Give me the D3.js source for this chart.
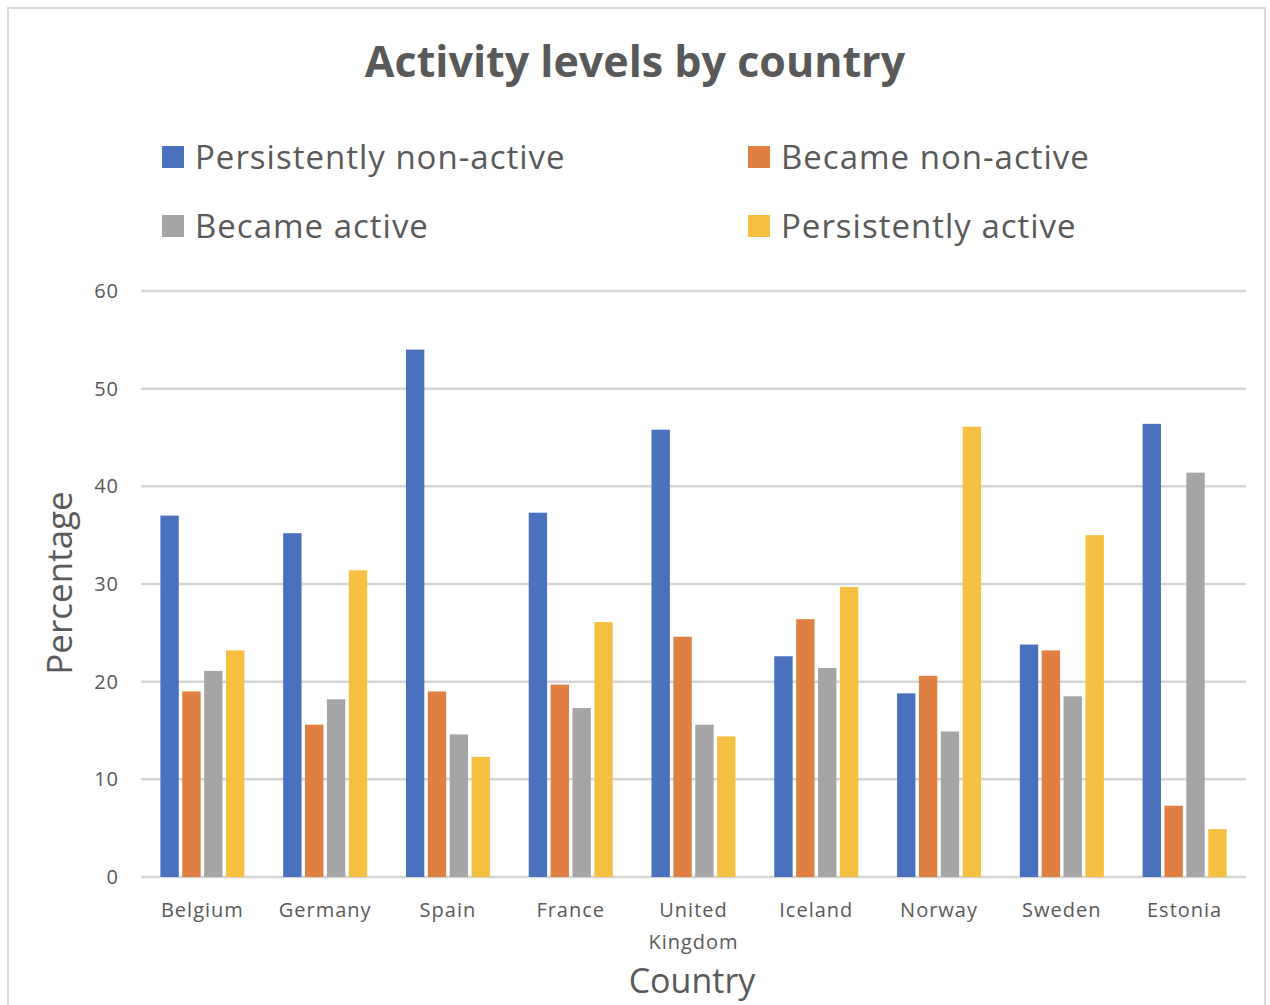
<!DOCTYPE html>
<html>
<head>
<meta charset="utf-8">
<script src="https://cdn.jsdelivr.net/npm/d3@7"></script>
<style>
  body { margin: 0; background: #fff; }
  text { font-family: "Open Sans", "DejaVu Sans", sans-serif; fill: #595959; }
</style>
</head>
<body>
<div id="chart"></div>
<script>
// data
var countries = ["Belgium", "Germany", "Spain", "France", "United Kingdom",
                 "Iceland", "Norway", "Sweden", "Estonia"];
var seriesNames = ["Persistently non-active", "Became non-active",
                   "Became active", "Persistently active"];
var persistentlyNonActive = [37.0, 35.2, 54.0, 37.3, 45.8, 22.6, 18.8, 23.8, 46.4];
var becameNonActive       = [19.0, 15.6, 19.0, 19.7, 24.6, 26.4, 20.6, 23.2, 7.3];
var becameActive          = [21.1, 18.2, 14.6, 17.3, 15.6, 21.4, 14.9, 18.5, 41.4];
var persistentlyActive    = [23.2, 31.4, 12.3, 26.1, 14.4, 29.7, 46.1, 35.0, 4.9];
var yTicks = [0, 10, 20, 30, 40, 50, 60];
var colors = ["#4A71BE", "#E07F42", "#A5A5A5", "#F5BF41"];

var seriesValues = [persistentlyNonActive, becameNonActive, becameActive, persistentlyActive];

var width = 1270, height = 1005;
var plot = {left: 141, right: 1246, top: 291, bottom: 877};

var svg = d3.select("#chart").append("svg")
  .attr("width", width)
  .attr("height", height);

// outer frame
svg.append("rect")
  .attr("x", 8).attr("y", 8)
  .attr("width", 1257).attr("height", 1010)
  .attr("fill", "#fff")
  .attr("stroke", "#d9d9d9")
  .attr("stroke-width", 2);

// scales
var x0 = d3.scaleBand().domain(countries).range([plot.left, plot.right]).padding(0);
var groupWidth = 84;
var x1 = d3.scaleBand().domain(seriesNames).range([0, groupWidth]).paddingInner(0.16);
var y = d3.scaleLinear().domain([0, 60]).range([plot.bottom, plot.top]);

// gridlines
svg.append("g")
  .selectAll("line")
  .data(yTicks)
  .enter().append("line")
  .attr("x1", plot.left).attr("x2", plot.right)
  .attr("y1", function(d) { return y(d); })
  .attr("y2", function(d) { return y(d); })
  .attr("stroke", "#d5d5d5")
  .attr("stroke-width", 2.5);

// y tick labels
svg.append("g")
  .selectAll("text")
  .data(yTicks)
  .enter().append("text")
  .attr("x", 119)
  .attr("y", function(d) { return y(d); })
  .attr("dy", "0.35em")
  .attr("text-anchor", "end")
  .style("font-size", "20px")
  .style("letter-spacing", "1px")
  .text(function(d) { return d; });

// bars
var groups = svg.append("g")
  .selectAll("g")
  .data(countries)
  .enter().append("g")
  .attr("transform", function(d) {
    return "translate(" + (x0(d) + (x0.bandwidth() - groupWidth) / 2) + ",0)";
  });

groups.selectAll("rect")
  .data(function(d, i) {
    return seriesNames.map(function(s, j) {
      return {series: s, value: seriesValues[j][i], color: colors[j]};
    });
  })
  .enter().append("rect")
  .attr("x", function(d) { return x1(d.series); })
  .attr("y", function(d) { return y(d.value); })
  .attr("width", x1.bandwidth())
  .attr("height", function(d) { return y(0) - y(d.value); })
  .attr("fill", function(d) { return d.color; });

// x labels (wrap "United Kingdom")
var xl = svg.append("g")
  .selectAll("text")
  .data(countries)
  .enter().append("text")
  .attr("x", function(d) { return x0(d) + x0.bandwidth() / 2; })
  .attr("y", 917)
  .attr("text-anchor", "middle")
  .style("font-size", "20px")
  .style("letter-spacing", "1px");

xl.each(function(d) {
  var words = d.split(" ");
  var t = d3.select(this);
  words.forEach(function(w, i) {
    t.append("tspan")
      .attr("x", t.attr("x"))
      .attr("dy", i == 0 ? 0 : 32)
      .text(w);
  });
});

// title
svg.append("text")
  .attr("x", 635).attr("y", 77)
  .attr("text-anchor", "middle")
  .style("font-size", "43px")
  .style("font-weight", "bold")
  .text("Activity levels by country");

// axis titles
svg.append("text")
  .attr("x", 692).attr("y", 993)
  .attr("text-anchor", "middle")
  .style("font-size", "34px")
  .text("Country");

svg.append("text")
  .attr("transform", "translate(72,583) rotate(-90)")
  .attr("text-anchor", "middle")
  .style("font-size", "35px")
  .text("Percentage");

// legend
var legendPos = [[162, 157], [748, 157], [162, 226], [748, 226]];
var legend = svg.append("g")
  .selectAll("g")
  .data(seriesNames)
  .enter().append("g")
  .attr("transform", function(d, i) {
    return "translate(" + legendPos[i][0] + "," + legendPos[i][1] + ")";
  });

legend.append("rect")
  .attr("x", 0).attr("y", -11)
  .attr("width", 22).attr("height", 22)
  .attr("fill", function(d, i) { return colors[i]; });

legend.append("text")
  .attr("x", 33).attr("y", 0)
  .attr("dy", "0.35em")
  .style("font-size", "33px")
  .style("letter-spacing", "1px")
  .text(function(d) { return d; });
</script>
</body>
</html>
